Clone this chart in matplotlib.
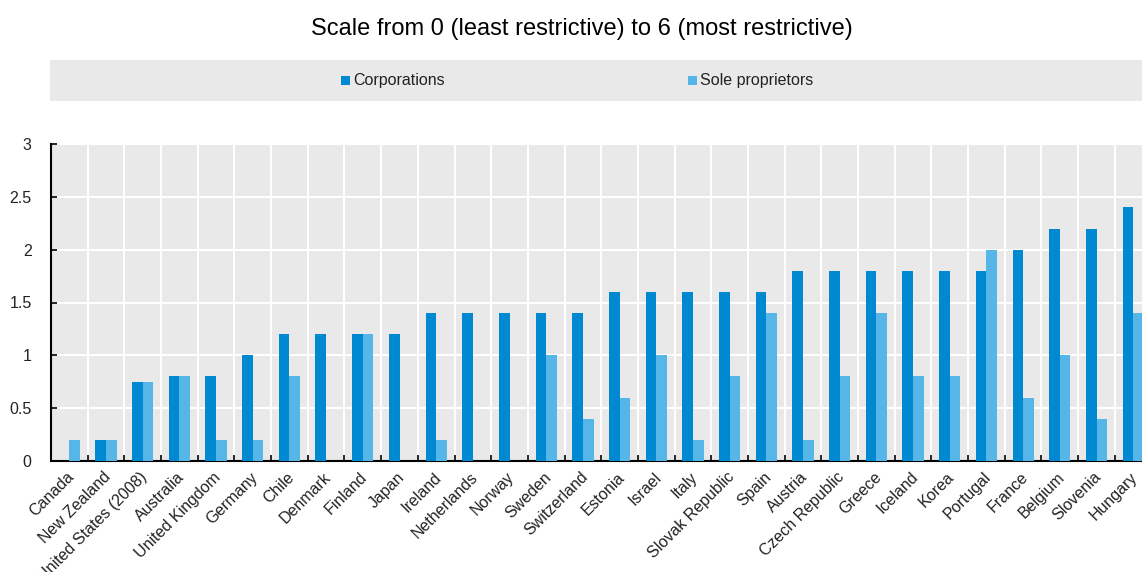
import matplotlib
matplotlib.use("Agg")
import matplotlib.pyplot as plt
from matplotlib.patches import Rectangle
import numpy as np

countries = ["Canada", "New Zealand", "United States (2008)", "Australia", "United Kingdom",
             "Germany", "Chile", "Denmark", "Finland", "Japan", "Ireland", "Netherlands",
             "Norway", "Sweden", "Switzerland", "Estonia", "Israel", "Italy", "Slovak Republic",
             "Spain", "Austria", "Czech Republic", "Greece", "Iceland", "Korea", "Portugal",
             "France", "Belgium", "Slovenia", "Hungary"]
corporations = [0.0, 0.2, 0.75, 0.8, 0.8, 1.0, 1.2, 1.2, 1.2, 1.2, 1.4, 1.4, 1.4, 1.4, 1.4,
                1.6, 1.6, 1.6, 1.6, 1.6, 1.8, 1.8, 1.8, 1.8, 1.8, 1.8, 2.0, 2.2, 2.2, 2.4]
sole_proprietors = [0.2, 0.2, 0.75, 0.8, 0.2, 0.2, 0.8, 0.0, 1.2, 0.0, 0.2, 0.0, 0.0, 1.0, 0.4,
                    0.6, 1.0, 0.2, 0.8, 1.4, 0.2, 0.8, 1.4, 0.8, 0.8, 2.0, 0.6, 1.0, 0.4, 1.4]
y_ticks = [0, 0.5, 1, 1.5, 2, 2.5, 3]
y_tick_labels = ["0", "0.5", "1", "1.5", "2", "2.5", "3"]
series_names = ["Corporations", "Sole proprietors"]

C_CORP = "#0089d0"
C_SOLE = "#55b6e7"
BG = "#e9e9e9"
SANS = ["Liberation Sans", "DejaVu Sans"]

fig = plt.figure(figsize=(11.42, 5.72), dpi=100)

# Title
fig.text(582 / 1142, 1 - 29 / 572, "Scale from 0 (least restrictive) to 6 (most restrictive)",
         ha="center", va="center", fontsize=17, family=SANS, color="#000000")

# Legend band
fig.patches.append(Rectangle((50 / 1142, 1 - 101 / 572), (1142 - 50) / 1142, 41 / 572,
                             transform=fig.transFigure, facecolor=BG, edgecolor="none"))
for name, col, sx in [(series_names[0], C_CORP, 341), (series_names[1], C_SOLE, 688)]:
    fig.patches.append(Rectangle((sx / 1142, 1 - 85 / 572), 9 / 1142, 9 / 572,
                                 transform=fig.transFigure, facecolor=col, edgecolor="none"))
    fig.text((sx + 12) / 1142, 1 - 80.5 / 572, name, ha="left", va="center",
             fontsize=11.5, family=SANS, color="#222222")

ax = fig.add_axes([51 / 1142, 1 - 461 / 572, (1142 - 51) / 1142, (461 - 144) / 572])
ax.set_facecolor(BG)

x = np.arange(len(countries))
w = 0.29
ax.bar(x - w / 2, corporations, width=w, color=C_CORP, zorder=3)
ax.bar(x + w / 2, sole_proprietors, width=w, color=C_SOLE, zorder=3)

ax.set_xlim(-0.5, 29.24)
ax.set_ylim(0, 3)

# Horizontal gridlines
ax.set_yticks(y_ticks)
ax.set_yticklabels(y_tick_labels, fontsize=11.5, family=SANS, color="#222222")
ax.yaxis.grid(True, color="white", linewidth=1.5, zorder=1)

# Category boundaries: white vertical gridlines and small inward ticks
bounds = np.arange(len(countries) - 1) + 0.5
ax.set_xticks(bounds, minor=False)
ax.set_xticklabels([])
ax.xaxis.grid(True, color="white", linewidth=1.5, zorder=1)
ax.set_axisbelow(True)
ax.tick_params(axis="x", direction="in", length=4, width=1.2, color="black")
ax.tick_params(axis="y", direction="in", length=4, width=1.2, color="black", pad=14)

for i, name in enumerate(countries):
    ax.text(i - 0.08, -0.08, name, rotation=45, ha="right", va="top", rotation_mode="anchor",
            fontsize=11.5, family=SANS, color="#222222")

for s in ["top", "right"]:
    ax.spines[s].set_visible(False)
for s in ["left", "bottom"]:
    ax.spines[s].set_color("black")
    ax.spines[s].set_linewidth(1.5)

fig.savefig("out.png", dpi=100)
